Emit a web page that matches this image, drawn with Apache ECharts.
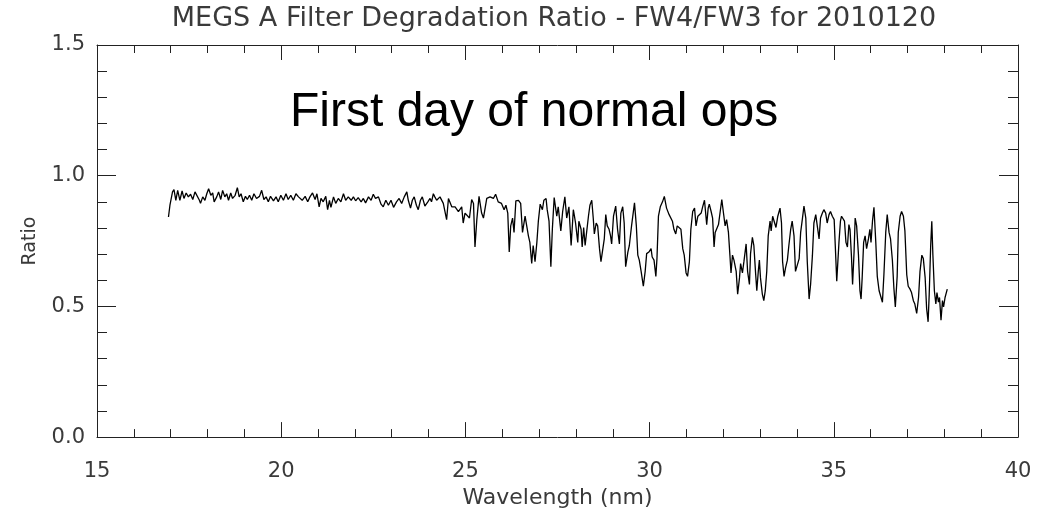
<!DOCTYPE html>
<html>
<head>
<meta charset="utf-8">
<script src="https://cdn.jsdelivr.net/npm/echarts@6/dist/echarts.min.js"></script>
<style>
html,body{margin:0;padding:0;background:#fff;}
#chart{width:1045px;height:514px;}
</style>
</head>
<body>
<div id="chart"></div>
<script>
const chartTitle = 'MEGS A Filter Degradation Ratio - FW4/FW3 for 2010120';
const annotation = 'First day of normal ops';
const xAxisName = 'Wavelength (nm)';
const yAxisName = 'Ratio';
const xTickValues = [15, 20, 25, 30, 35, 40];
const yTickValues = [0.0, 0.5, 1.0, 1.5];

const wavelength = [
16.94,16.98,17.05,17.09,17.14,17.19,17.25,17.31,17.36,17.42,17.48,17.54,17.60,17.66,17.71,17.78,17.81,17.87,17.93,17.98,
18.03,18.09,18.14,18.18,18.25,18.30,18.36,18.41,18.47,18.52,18.57,18.63,18.68,18.75,18.81,18.86,18.91,18.97,
19.03,19.08,19.14,19.20,19.26,19.33,19.41,19.47,19.53,19.59,19.65,19.71,19.79,19.86,19.92,19.99,
20.06,20.13,20.19,20.26,20.33,20.40,20.47,20.51,20.57,20.65,20.72,20.78,20.85,20.92,20.97,
21.03,21.08,21.14,21.21,21.26,21.31,21.35,21.42,21.48,21.55,21.62,21.69,21.75,21.82,21.90,21.96,
22.02,22.09,22.17,22.23,22.29,22.37,22.44,22.50,22.56,22.64,22.71,22.77,22.84,22.91,22.98,
23.05,23.13,23.20,23.27,23.34,23.41,23.45,23.51,23.56,23.61,23.67,23.72,23.78,23.83,23.90,23.98,
24.04,24.08,24.13,24.17,24.22,24.31,24.40,24.45,24.49,24.54,24.63,24.72,24.76,24.81,24.90,24.94,24.99,
25.03,25.11,25.17,25.22,25.26,25.31,25.37,25.44,25.49,25.58,25.67,25.76,25.82,25.89,25.98,
26.05,26.10,26.15,26.19,26.23,26.28,26.32,26.37,26.44,26.50,26.55,26.62,26.66,26.71,26.75,26.80,26.84,26.89,26.94,26.98,
27.03,27.09,27.13,27.19,27.22,27.27,27.32,27.36,27.41,27.48,27.52,27.59,27.64,27.70,27.75,27.81,27.87,27.93,27.96,27.99,
28.05,28.08,28.14,28.17,28.21,28.25,28.29,28.34,28.38,28.43,28.47,28.50,28.55,28.59,28.64,28.68,28.72,28.77,28.81,28.85,28.90,28.94,28.97,
29.02,29.08,29.13,29.18,29.22,29.27,29.31,29.35,29.41,29.45,29.51,29.59,29.64,29.68,29.72,29.77,29.83,29.88,29.92,29.98,
30.04,30.07,30.12,30.17,30.20,30.24,30.29,30.35,30.40,30.46,30.53,30.58,30.62,30.66,30.71,30.75,30.80,30.85,30.90,30.94,30.99,
31.03,31.08,31.12,31.17,31.22,31.26,31.31,31.35,31.40,31.44,31.49,31.55,31.59,31.62,31.67,31.71,31.75,31.78,31.82,31.87,31.91,31.96,
32.00,32.05,32.09,32.14,32.18,32.21,32.25,32.29,32.35,32.39,32.44,32.47,32.52,32.56,32.62,32.66,32.71,32.74,32.79,32.83,32.88,32.91,32.95,32.98,
33.01,33.06,33.10,33.14,33.18,33.22,33.27,33.30,33.34,33.39,33.43,33.48,33.54,33.58,33.61,33.65,33.69,33.74,33.78,33.83,33.87,33.92,33.96,
34.01,34.06,34.10,34.15,34.19,34.24,34.28,34.33,34.37,34.42,34.46,34.51,34.55,34.60,34.64,34.69,34.73,34.78,34.82,34.87,34.91,34.96,
35.01,35.04,35.08,35.10,35.14,35.18,35.21,35.26,35.29,35.33,35.37,35.41,35.44,35.48,35.51,35.55,35.58,35.62,35.67,35.71,35.74,35.77,35.81,35.85,35.89,35.94,35.98,
36.01,36.05,36.09,36.14,36.18,36.23,36.27,36.32,36.36,36.41,36.45,36.50,36.54,36.59,36.63,36.67,36.72,36.75,36.80,36.84,36.89,36.93,36.98,
37.02,37.07,37.11,37.16,37.20,37.25,37.30,37.34,37.39,37.43,37.48,37.52,37.56,37.59,37.63,37.66,37.69,37.73,37.77,37.80,37.84,37.87,37.91,37.95,37.98,
38.02,38.06,38.08
];

const ratio = [
0.842,0.887,0.938,0.947,0.906,0.944,0.906,0.942,0.913,0.934,0.919,0.929,0.909,0.938,0.944,0.906,0.894,0.919,0.906,0.931,
0.950,0.925,0.934,0.900,0.919,0.938,0.909,0.944,0.919,0.931,0.906,0.934,0.913,0.925,0.954,0.919,0.931,0.900,
0.921,0.909,0.925,0.906,0.931,0.913,0.921,0.944,0.909,0.919,0.900,0.921,0.904,0.919,0.900,0.925,
0.906,0.931,0.909,0.925,0.906,0.931,0.919,0.925,0.906,0.921,0.900,0.919,0.934,0.909,0.931,
0.881,0.913,0.900,0.921,0.870,0.906,0.879,0.919,0.894,0.913,0.900,0.931,0.906,0.919,0.906,0.919,
0.904,0.916,0.900,0.913,0.896,0.919,0.906,0.929,0.913,0.919,0.891,0.881,0.906,0.887,0.906,
0.879,0.900,0.913,0.894,0.919,0.938,0.906,0.876,0.906,0.919,0.887,0.870,0.906,0.919,0.884,0.900,
0.913,0.900,0.931,0.919,0.906,0.919,0.894,0.900,0.832,0.913,0.881,0.881,0.887,0.863,0.881,0.819,0.857,
0.851,0.838,0.909,0.894,0.727,0.832,0.921,0.857,0.838,0.913,0.919,0.913,0.929,0.900,0.894,
0.870,0.887,0.857,0.708,0.808,0.838,0.783,0.904,0.906,0.894,0.783,0.845,0.851,0.770,0.745,0.664,0.733,0.671,0.745,0.826,
0.891,0.870,0.906,0.913,0.870,0.826,0.652,0.795,0.916,0.845,0.881,0.789,0.863,0.919,0.838,0.881,0.733,0.870,0.845,0.819,
0.745,0.826,0.795,0.727,0.802,0.733,0.783,0.845,0.887,0.906,0.838,0.777,0.819,0.808,0.721,0.671,0.677,0.758,0.851,0.808,0.795,0.770,0.739,
0.845,0.884,0.795,0.739,0.857,0.881,0.819,0.652,0.708,0.733,0.808,0.896,0.808,0.696,0.677,0.634,0.577,0.634,0.702,0.708,
0.721,0.689,0.677,0.615,0.683,0.845,0.881,0.900,0.921,0.876,0.851,0.845,0.826,0.795,0.777,0.808,0.813,0.795,0.721,0.696,0.628,
0.615,0.671,0.795,0.863,0.876,0.808,0.845,0.851,0.857,0.881,0.906,0.813,0.876,0.891,0.863,0.838,0.727,0.783,0.777,0.813,0.813,0.909,
0.863,0.808,0.832,0.783,0.696,0.628,0.696,0.677,0.634,0.547,0.609,0.664,0.628,0.671,0.739,0.634,0.584,0.702,0.764,0.733,0.621,0.560,0.634,0.677,
0.609,0.547,0.522,0.560,0.634,0.770,0.826,0.789,0.845,0.838,0.802,0.845,0.876,0.819,0.671,0.615,0.647,0.677,0.733,0.795,0.826,0.770,0.634,
0.628,0.683,0.783,0.838,0.884,0.838,0.671,0.528,0.584,0.696,0.819,0.851,0.845,0.758,0.838,0.857,0.870,0.857,0.819,0.851,0.863,0.845,
0.832,0.733,0.596,0.590,0.745,0.826,0.845,0.838,0.826,0.745,0.727,0.813,0.795,0.689,0.584,0.708,0.838,0.808,0.696,0.560,0.528,0.609,0.745,0.770,0.721,0.758,0.795,
0.745,0.826,0.879,0.745,0.615,0.560,0.553,0.516,0.621,0.783,0.851,0.783,0.758,0.677,0.572,0.498,0.615,0.783,0.845,0.863,0.845,0.789,0.621,
0.577,0.566,0.553,0.522,0.509,0.473,0.534,0.634,0.696,0.683,0.609,0.491,0.441,0.547,0.733,0.826,0.696,0.560,0.509,0.553,0.516,0.534,0.447,0.522,0.498,
0.534,0.541,0.566
];

const seriesData = wavelength.map((w, i) => [w, ratio[i]]);

const textColor = '#3a3a3a';
const lineColor = '#222';
const labelFont = 'DejaVu Sans, Liberation Sans, sans-serif';

function xAxisCfg(pos, showLabels) {
  return {
    type: 'value', position: pos, min: xTickValues[0], max: xTickValues[xTickValues.length - 1], interval: 5,
    axisLine: { show: true, onZero: false, lineStyle: { color: lineColor, width: 1 } },
    axisTick: { show: true, inside: true, length: 15, lineStyle: { color: lineColor, width: 1 } },
    minorTick: { show: true, splitNumber: 5, length: 8, lineStyle: { color: lineColor, width: 1 } },
    splitLine: { show: false },
    axisLabel: { show: showLabels, margin: 24, color: textColor, fontSize: 21, fontFamily: labelFont },
    name: showLabels ? xAxisName : '',
    nameLocation: 'middle', nameGap: 36,
    nameTextStyle: { color: textColor, fontSize: 22, fontFamily: labelFont }
  };
}
function yAxisCfg(pos, showLabels) {
  return {
    type: 'value', position: pos, min: yTickValues[0], max: yTickValues[yTickValues.length - 1], interval: 0.5,
    axisLine: { show: true, onZero: false, lineStyle: { color: lineColor, width: 1 } },
    axisTick: { show: true, inside: true, length: 19, lineStyle: { color: lineColor, width: 1 } },
    minorTick: { show: true, splitNumber: 5, length: 10, lineStyle: { color: lineColor, width: 1 } },
    splitLine: { show: false },
    axisLabel: { show: showLabels, margin: 12, color: textColor, fontSize: 21, fontFamily: labelFont,
      formatter: v => v.toFixed(1) },
    name: showLabels ? yAxisName : '',
    nameLocation: 'middle', nameGap: 57, nameRotate: 90,
    nameTextStyle: { color: textColor, fontSize: 19, fontFamily: labelFont }
  };
}

const chart = echarts.init(document.getElementById('chart'), null, { renderer: 'canvas' });
chart.setOption({
  animation: false,
  backgroundColor: '#ffffff',
  title: {
    text: chartTitle, left: 549, top: 0, textAlign: 'center',
    textStyle: { color: textColor, fontSize: 27, fontWeight: 'normal', fontFamily: labelFont }
  },
  grid: { left: 97, right: 27, top: 45, bottom: 64, containLabel: false },
  xAxis: [xAxisCfg('bottom', true), xAxisCfg('top', false)],
  yAxis: [yAxisCfg('left', true), yAxisCfg('right', false)],
  graphic: [{
    type: 'text', left: 290, top: 89,
    style: { text: annotation, fill: '#000', fontSize: 48, fontFamily: 'Liberation Sans, Arial, sans-serif' }
  }],
  series: [{
    type: 'line', xAxisIndex: 0, yAxisIndex: 0, data: seriesData,
    showSymbol: false, symbol: 'none',
    lineStyle: { color: '#000', width: 1.3 }
  }]
});
</script>
</body>
</html>
